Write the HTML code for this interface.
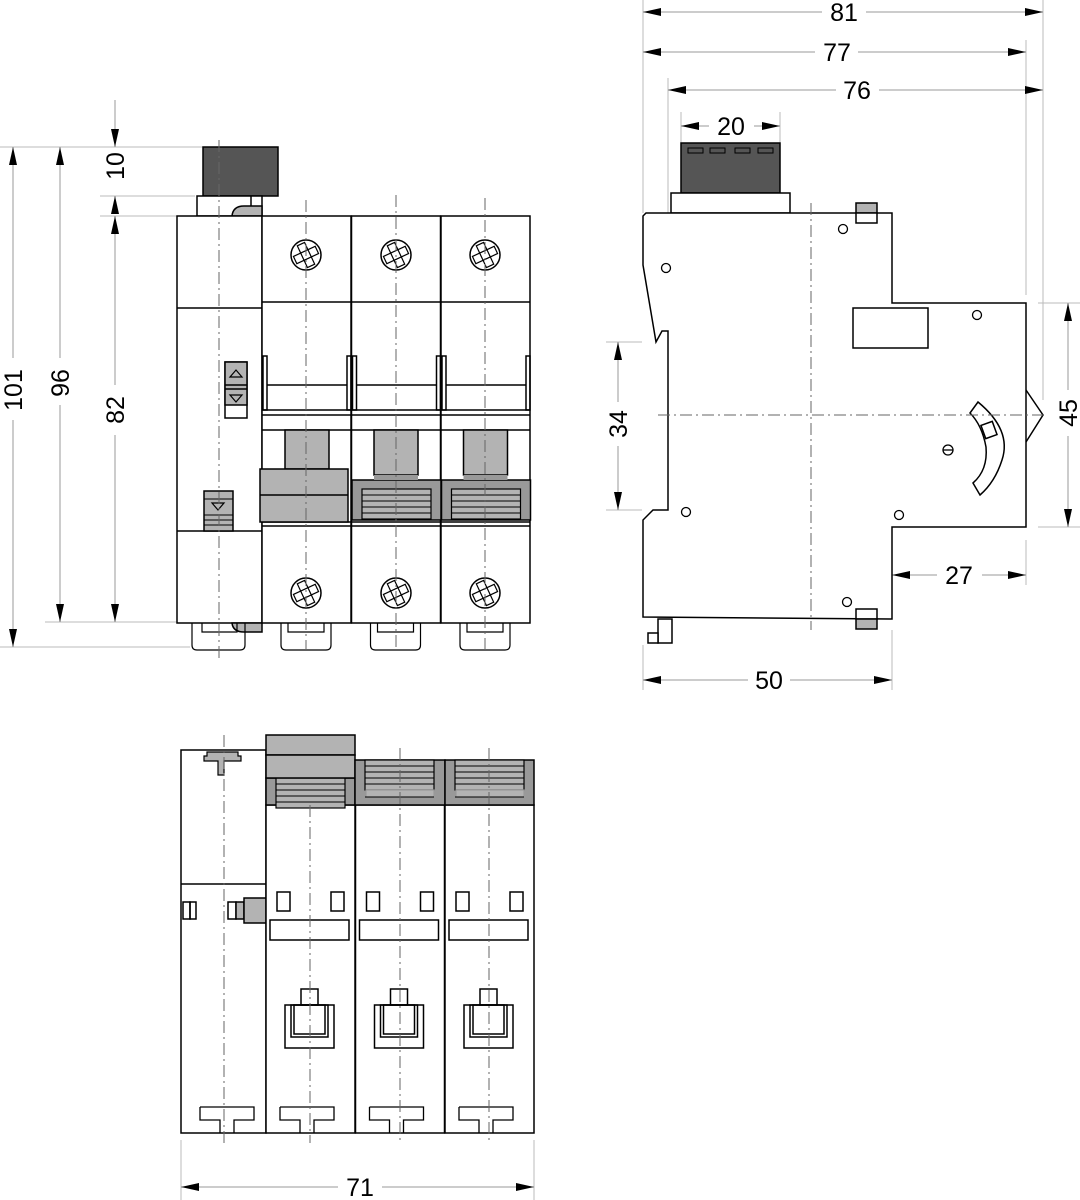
<!DOCTYPE html>
<html><head><meta charset="utf-8"><style>
html,body{margin:0;padding:0;background:#fff}
svg{display:block}
text{font-family:"Liberation Sans Narrow","Liberation Sans",sans-serif;font-size:25px;fill:#000}
</style></head><body>
<svg width="1080" height="1200" viewBox="0 0 1080 1200" xmlns="http://www.w3.org/2000/svg">
<defs>
<marker id="a" viewBox="0 0 18 8" refX="18" refY="4" markerWidth="18" markerHeight="8" orient="auto-start-reverse" markerUnits="userSpaceOnUse"><path d="M0,0 L18,4 L0,8 Z" fill="#000"/></marker>
<g id="screw"><circle r="15" fill="#fff" stroke="#000" stroke-width="1.5"/>
<g fill="#fff" stroke="#000" stroke-width="1.2" transform="rotate(-25)"><rect x="-4" y="-12" width="8" height="8"/><rect x="-4" y="4" width="8" height="8"/><rect x="-12" y="-4" width="8" height="8"/><rect x="4" y="-4" width="8" height="8"/></g></g>
<g id="stripes"><rect x="0" y="0" width="69" height="30" fill="#b3b3b3" stroke="#000" stroke-width="1.2"/>
<g stroke="#000" stroke-width="1"><line x1="0" y1="6" x2="69" y2="6"/><line x1="0" y1="12" x2="69" y2="12"/><line x1="0" y1="18" x2="69" y2="18"/><line x1="0" y1="24" x2="69" y2="24"/></g></g>
</defs>
<g fill="none" stroke="#000" stroke-width="1.5">

<!-- ============ FRONT VIEW ============ -->
<!-- extension lines -->
<g stroke="#bbb" stroke-width="1">
<line x1="0" y1="147" x2="203" y2="147"/><line x1="100" y1="196" x2="195" y2="196"/>
<line x1="100" y1="216" x2="177" y2="216"/><line x1="45" y1="622" x2="190" y2="622"/>
<line x1="0" y1="647" x2="190" y2="647"/>
<line x1="115" y1="100" x2="115" y2="147"/>
</g>
<!-- dims -->
<g stroke="#999" stroke-width="1">
<line x1="13" y1="147" x2="13" y2="358" marker-start="url(#a)"/><line x1="13" y1="420" x2="13" y2="647" marker-end="url(#a)"/>
<line x1="60" y1="147" x2="60" y2="358" marker-start="url(#a)"/><line x1="60" y1="405" x2="60" y2="622" marker-end="url(#a)"/>
<line x1="115" y1="216" x2="115" y2="385" marker-start="url(#a)"/><line x1="115" y1="435" x2="115" y2="622" marker-end="url(#a)"/>
<line x1="115" y1="100" x2="115" y2="147" marker-end="url(#a)"/>
<line x1="115" y1="214" x2="115" y2="196" marker-end="url(#a)"/>
</g>
<g stroke="none">
<text transform="translate(22,390) rotate(-90)" text-anchor="middle">101</text>
<text transform="translate(69,383) rotate(-90)" text-anchor="middle">96</text>
<text transform="translate(124,410) rotate(-90)" text-anchor="middle">82</text>
<text transform="translate(124,166) rotate(-90)" text-anchor="middle">10</text>
</g>

<!-- top knob -->
<rect x="203" y="147" width="75" height="49" fill="#555"/>
<rect x="197" y="196" width="65" height="20" fill="#fff"/>
<line x1="251" y1="196" x2="251" y2="206"/>
<path d="M232,216 Q233,206 244,206 L262,206 L262,216 Z" fill="#b3b3b3"/>
<!-- left module -->
<rect x="177" y="216" width="85" height="407" fill="#fff"/>
<line x1="177" y1="308" x2="262" y2="308"/><line x1="177" y1="531" x2="262" y2="531"/>
<rect x="225" y="362" width="22" height="56" fill="#fff"/>
<rect x="225" y="362" width="22" height="43" fill="#b3b3b3"/>
<line x1="225" y1="385" x2="247" y2="385"/><line x1="225" y1="389" x2="247" y2="389"/>
<path d="M230,377 L236,370 L242,377 Z M230,395 L236,402 L242,395 Z" stroke-width="1.2"/>
<rect x="204" y="491" width="29" height="40" fill="#b3b3b3"/>
<g stroke-width="1"><line x1="204" y1="499" x2="233" y2="499"/><line x1="204" y1="515" x2="233" y2="515"/><line x1="204" y1="520" x2="233" y2="520"/><line x1="204" y1="525" x2="233" y2="525"/></g>
<path d="M212,503 L218,510 L224,503 Z" stroke-width="1.2"/>
<path d="M232,623 Q233,632 244,632 L262,632 L262,623 Z" fill="#b3b3b3"/>
<!-- poles -->
<g id="pole">
<rect x="262" y="216" width="89" height="407" fill="#fff"/>
<line x1="262" y1="302" x2="351" y2="302"/>
<rect x="263" y="356" width="4" height="54"/><rect x="347" y="356" width="4" height="54"/>
<line x1="267" y1="385" x2="347" y2="385"/>
<line x1="262" y1="410" x2="351" y2="410"/><line x1="262" y1="415" x2="351" y2="415"/>
<line x1="262" y1="430" x2="351" y2="430"/>
<line x1="262" y1="522" x2="351" y2="522"/><line x1="262" y1="526" x2="351" y2="526"/>
<path d="M281,623 L281,645 Q281,650 286,650 L326,650 Q331,650 331,645 L331,623 M288,623 L288,632 L324,632 L324,623" stroke-width="1.2"/>
</g>
<use href="#pole" x="89.5"/><use href="#pole" x="179"/>
<use href="#screw" x="306" y="255"/><use href="#screw" x="396" y="255"/><use href="#screw" x="485" y="255"/>
<use href="#screw" x="306" y="593"/><use href="#screw" x="396" y="593"/><use href="#screw" x="485" y="593"/>
<path d="M192,623 L192,645 Q192,650 197,650 L240,650 Q245,650 245,645 L245,623 M202,623 L202,632 L237,632 L237,623" stroke-width="1.2"/>
<!-- pole 1 grey -->
<rect x="285" y="430" width="44" height="39" fill="#b3b3b3"/>
<rect x="260" y="469" width="88" height="53" fill="#b3b3b3"/>
<line x1="260" y1="495" x2="348" y2="495"/>
<!-- pole 2,3 grey -->
<g id="g2">
<rect x="374" y="430" width="44" height="45" fill="#b3b3b3"/>
<rect x="352" y="480" width="89" height="40" fill="#999"/>
<rect x="374" y="475" width="44" height="5" fill="#999" stroke="none"/>
<use href="#stripes" x="362" y="489"/>
</g>
<use href="#g2" x="89.5"/>
<!-- centerlines -->
<g stroke="#666" stroke-width="1" stroke-dasharray="12,4,2,4">
<line x1="219" y1="140" x2="219" y2="660"/><line x1="306" y1="200" x2="306" y2="650"/>
<line x1="396" y1="195" x2="396" y2="650"/><line x1="485" y1="198" x2="485" y2="650"/>
</g>

<!-- ============ SIDE VIEW ============ -->
<g stroke="#bbb" stroke-width="1">
<line x1="643" y1="0" x2="643" y2="213"/><line x1="1043" y1="0" x2="1043" y2="400"/>
<line x1="1026" y1="40" x2="1026" y2="295"/><line x1="668" y1="78" x2="668" y2="330"/>
<line x1="681" y1="112" x2="681" y2="143"/><line x1="780" y1="112" x2="780" y2="143"/>
<line x1="1038" y1="303" x2="1080" y2="303"/><line x1="1038" y1="527" x2="1080" y2="527"/>
<line x1="606" y1="342" x2="642" y2="342"/><line x1="606" y1="510" x2="642" y2="510"/>
<line x1="1026" y1="540" x2="1026" y2="585"/><line x1="892" y1="630" x2="892" y2="690"/>
<line x1="643" y1="645" x2="643" y2="690"/>
</g>
<g stroke="#999" stroke-width="1">
<line x1="643" y1="12" x2="822" y2="12" marker-start="url(#a)"/><line x1="866" y1="12" x2="1043" y2="12" marker-end="url(#a)"/>
<line x1="643" y1="52" x2="815" y2="52" marker-start="url(#a)"/><line x1="858" y1="52" x2="1026" y2="52" marker-end="url(#a)"/>
<line x1="668" y1="90" x2="836" y2="90" marker-start="url(#a)"/><line x1="879" y1="90" x2="1043" y2="90" marker-end="url(#a)"/>
<line x1="681" y1="126" x2="709" y2="126" marker-start="url(#a)"/><line x1="754" y1="126" x2="780" y2="126" marker-end="url(#a)"/>
<line x1="618" y1="342" x2="618" y2="402" marker-start="url(#a)"/><line x1="618" y1="446" x2="618" y2="510" marker-end="url(#a)"/>
<line x1="1068" y1="303" x2="1068" y2="390" marker-start="url(#a)"/><line x1="1068" y1="436" x2="1068" y2="527" marker-end="url(#a)"/>
<line x1="892" y1="575" x2="937" y2="575" marker-start="url(#a)"/><line x1="982" y1="575" x2="1026" y2="575" marker-end="url(#a)"/>
<line x1="643" y1="680" x2="748" y2="680" marker-start="url(#a)"/><line x1="790" y1="680" x2="892" y2="680" marker-end="url(#a)"/>
</g>
<g stroke="none">
<text x="844" y="21" text-anchor="middle">81</text>
<text x="837" y="61" text-anchor="middle">77</text>
<text x="857" y="99" text-anchor="middle">76</text>
<text x="731" y="135" text-anchor="middle">20</text>
<text transform="translate(627,424) rotate(-90)" text-anchor="middle">34</text>
<text transform="translate(1077,413) rotate(-90)" text-anchor="middle">45</text>
<text x="959" y="584" text-anchor="middle">27</text>
<text x="769" y="689" text-anchor="middle">50</text>
</g>
<!-- knob -->
<rect x="681" y="143" width="99" height="50" fill="#555"/>
<g fill="#555" stroke-width="1"><rect x="688" y="148" width="15" height="5"/><rect x="710" y="148" width="15" height="5"/><rect x="735" y="148" width="15" height="5"/><rect x="758" y="148" width="15" height="5"/></g>
<rect x="671" y="193" width="119" height="20" fill="#fff"/>
<!-- body -->
<path d="M646,213 L892,213 L892,303 L1026,303 L1026,527 L892,527 L892,619 L643,617 L643,520 L653,510 L668,510 L668,331 L662,331 L656,342 L643,265 L643,216 Z" fill="#fff"/>
<path d="M1026,390 L1043,415 L1026,442"/>
<rect x="853" y="308" width="75" height="40"/>
<rect x="856" y="203" width="21" height="10" fill="#b3b3b3"/><rect x="856" y="213" width="21" height="10" fill="#fff"/>
<rect x="856" y="609" width="21" height="10" fill="#fff"/><rect x="856" y="619" width="21" height="10" fill="#b3b3b3"/>
<rect x="658" y="619" width="14" height="24" fill="#fff"/><rect x="648" y="633" width="10" height="10" fill="#fff"/>
<g stroke-width="1.3"><circle cx="843" cy="229" r="4.5"/><circle cx="666" cy="268" r="4.5"/><circle cx="977" cy="315" r="4.5"/><circle cx="686" cy="512" r="4.5"/><circle cx="899" cy="515" r="4.5"/><circle cx="847" cy="602" r="4.5"/>
<circle cx="948" cy="450" r="5"/><line x1="943" y1="450" x2="953" y2="450"/></g>
<path d="M970,413 L978,402 Q1012,430 1002,460 Q995,482 980,495 L973,483 Q988,470 986,447 Q982,425 970,413 Z" fill="#fff"/>
<rect x="983" y="423" width="12" height="14" transform="rotate(-20 989 430)" fill="#fff"/>
<g stroke="#666" stroke-width="1" stroke-dasharray="12,4,2,4">
<line x1="658" y1="415" x2="1043" y2="415"/><line x1="811" y1="203" x2="811" y2="630"/>
</g>

<!-- ============ BOTTOM VIEW ============ -->
<g stroke="#bbb" stroke-width="1"><line x1="181" y1="1140" x2="181" y2="1200"/><line x1="534" y1="1140" x2="534" y2="1200"/></g>
<g stroke="#999" stroke-width="1">
<line x1="181" y1="1187" x2="338" y2="1187" marker-start="url(#a)"/><line x1="382" y1="1187" x2="534" y2="1187" marker-end="url(#a)"/>
</g>
<text x="360" y="1196" text-anchor="middle" stroke="none">71</text>
<rect x="181" y="750" width="85" height="383" fill="#fff"/>
<line x1="181" y1="884" x2="534" y2="884"/>
<path d="M207,752 L207,756 L204,756 L204,761 L218,761 L218,775 L224,775 L224,761 L241,761 L241,756 L238,756 L238,752 Z" fill="#b3b3b3" stroke-width="1.2"/>
<rect x="183" y="902" width="7" height="17"/><rect x="190" y="902" width="6" height="17"/>
<rect x="228" y="902" width="8" height="17"/><rect x="236" y="902" width="8" height="17" fill="#b3b3b3"/>
<rect x="244" y="898" width="22" height="25" fill="#b3b3b3"/>
<g id="bp">
<rect x="266" y="805" width="89" height="328" fill="#fff"/>
<rect x="277" y="892" width="13" height="19"/><rect x="331" y="892" width="13" height="19"/>
<rect x="270" y="920" width="79" height="20"/>
<rect x="301" y="989" width="17" height="16"/>
<rect x="285" y="1005" width="49" height="43"/>
<rect x="291" y="1005" width="37" height="32"/><rect x="294" y="1005" width="31" height="29"/>
<path d="M280,1107 L334,1107 L334,1120 L314,1120 L314,1133 M280,1107 L280,1120 L300,1120 L300,1133" stroke-width="1.3"/>
</g>
<use href="#bp" x="89.5"/><use href="#bp" x="179"/>
<path d="M200,1107 L254,1107 L254,1120 L234,1120 L234,1133 M200,1107 L200,1120 L220,1120 L220,1133" stroke-width="1.3"/>
<!-- grey tops -->
<rect x="266" y="778" width="89" height="27" fill="#999"/>
<use href="#stripes" x="276" y="778" transform="translate(0,0)"/>
<rect x="266" y="735" width="89" height="20" fill="#b3b3b3"/>
<rect x="266" y="755" width="89" height="23" fill="#b3b3b3"/>
<rect x="355" y="760" width="90" height="45" fill="#999"/>
<use href="#stripes" x="365" y="760" transform="translate(0,0) scale(1)"/>
<rect x="445" y="760" width="89" height="45" fill="#999"/>
<use href="#stripes" x="455" y="760"/>
<g stroke="#999" stroke-width="1.2" fill="#b3b3b3"><rect x="366" y="790" width="68" height="8"/><rect x="456" y="790" width="68" height="8"/></g>
<g stroke="#000" stroke-width="1"><line x1="365" y1="797" x2="434" y2="797"/><line x1="455" y1="797" x2="524" y2="797"/></g>
<g stroke="#666" stroke-width="1" stroke-dasharray="12,4,2,4">
<line x1="224" y1="735" x2="224" y2="1143"/><line x1="310" y1="805" x2="310" y2="1143"/>
<line x1="400" y1="748" x2="400" y2="1143"/><line x1="489" y1="748" x2="489" y2="1143"/>
</g>
</g>
</svg>
</body></html>
